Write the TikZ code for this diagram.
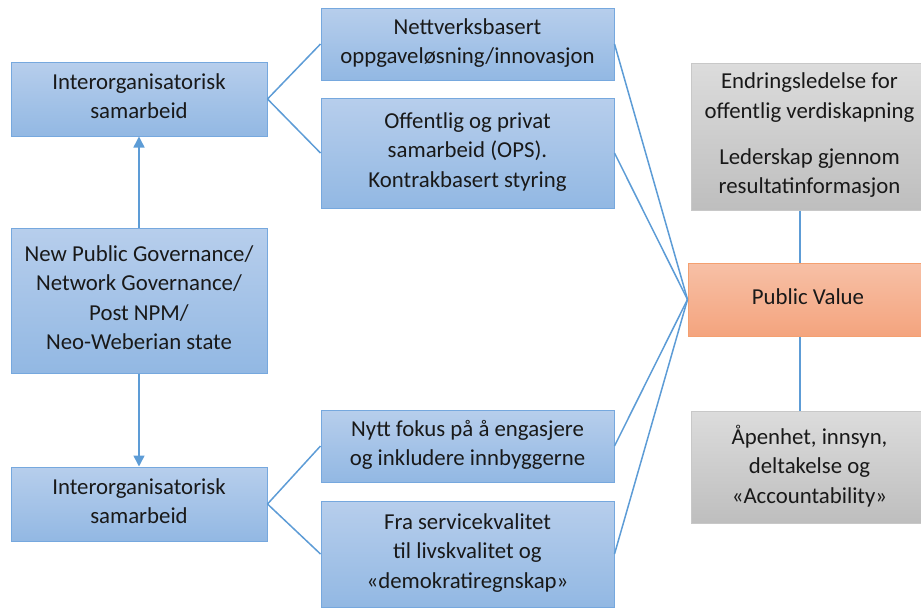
\documentclass[tikz,border=0pt]{standalone}
\usepackage{fontspec}
\setmainfont{Carlito}
\usetikzlibrary{arrows.meta}

\definecolor{linkblue}{RGB}{93,156,214}
\definecolor{bluetop}{RGB}{183,206,236}
\definecolor{bluebot}{RGB}{146,184,227}
\definecolor{blueedge}{RGB}{118,168,222}
\definecolor{orangetop}{RGB}{247,192,166}
\definecolor{orangebot}{RGB}{244,164,126}
\definecolor{orangeedge}{RGB}{244,160,112}
\definecolor{greytop}{RGB}{220,220,220}
\definecolor{greybot}{RGB}{190,190,190}
\definecolor{greyedge}{RGB}{200,200,200}
\definecolor{inktext}{RGB}{25,25,25}

\tikzset{
  box/.style={rectangle, draw, line width=1pt, align=center, inner sep=0pt,
    text depth=6pt, text=inktext, font=\fontsize{22.8pt}{29.5pt}\selectfont},
  bluebox/.style={box, draw=blueedge, top color=bluetop, bottom color=bluebot},
  orangebox/.style={box, draw=orangeedge, top color=orangetop, bottom color=orangebot},
  greybox/.style={box, draw=greyedge, top color=greytop, bottom color=greybot},
  link/.style={draw=linkblue, line width=1.5pt},
  arrowlink/.style={link, -{Triangle[width=11pt,length=11pt]}}
}

\begin{document}
\begin{tikzpicture}[x=1pt, y=-1pt]
  \useasboundingbox (0,0) rectangle (921,608);
  \clip (0,0) rectangle (921,608);

  % left column
  \node[bluebox, minimum width=256pt, minimum height=74pt] (io1) at (139,99)
    {Interorganisatorisk\\samarbeid};
  \node[bluebox, minimum width=256pt, minimum height=145pt] (npg) at (139,300.5)
    {New Public Governance/\\Network Governance/\\Post NPM/\\Neo-Weberian state};
  \node[bluebox, minimum width=256pt, minimum height=74pt] (io2) at (139,504)
    {Interorganisatorisk\\samarbeid};

  % middle column
  \node[bluebox, minimum width=293pt, minimum height=72pt] (nett) at (467.5,44)
    {Nettverksbasert\\oppgaveløsning/innovasjon};
  \node[bluebox, minimum width=293pt, minimum height=110pt] (ops) at (467.5,153)
    {Offentlig og privat\\samarbeid (OPS).\\Kontrakbasert styring};
  \node[bluebox, minimum width=293pt, minimum height=72pt] (nytt) at (467.5,446)
    {Nytt fokus på å engasjere\\og inkludere innbyggerne};
  \node[bluebox, minimum width=293pt, minimum height=106pt] (fra) at (467.5,554)
    {Fra servicekvalitet\\til livskvalitet og\\«demokratiregnskap»};

  % right column
  \node[greybox, minimum width=237pt, minimum height=147pt] (gtop) at (809.5,136.5)
    {Endringsledelse for\\offentlig verdiskapning\\[16.5pt]Lederskap gjennom\\resultatinformasjon};
  \node[orangebox, minimum width=240pt, minimum height=73pt] (pv) at (808,299.5)
    {Public Value};
  \node[greybox, minimum width=237pt, minimum height=112pt] (gbot) at (809.5,467)
    {Åpenhet, innsyn,\\deltakelse og\\«Accountability»};

  \coordinate (vx) at (800,0);

  % connectors
  \draw[arrowlink] (npg.north) -- (io1.south);
  \draw[arrowlink] (npg.south) -- (io2.north);

  \draw[link] (io1.east) -- (nett.west);
  \draw[link] (io1.east) -- (ops.west);
  \draw[link] (io2.east) -- (nytt.west);
  \draw[link] (io2.east) -- (fra.west);

  \draw[link] (nett.east) -- (pv.west);
  \draw[link] (ops.east) -- (pv.west);
  \draw[link] (nytt.east) -- (pv.west);
  \draw[link] (fra.east) -- (pv.west);

  \draw[link] (gtop.south -| vx) -- (pv.north -| vx);
  \draw[link] (pv.south -| vx) -- (gbot.north -| vx);
\end{tikzpicture}
\end{document}
